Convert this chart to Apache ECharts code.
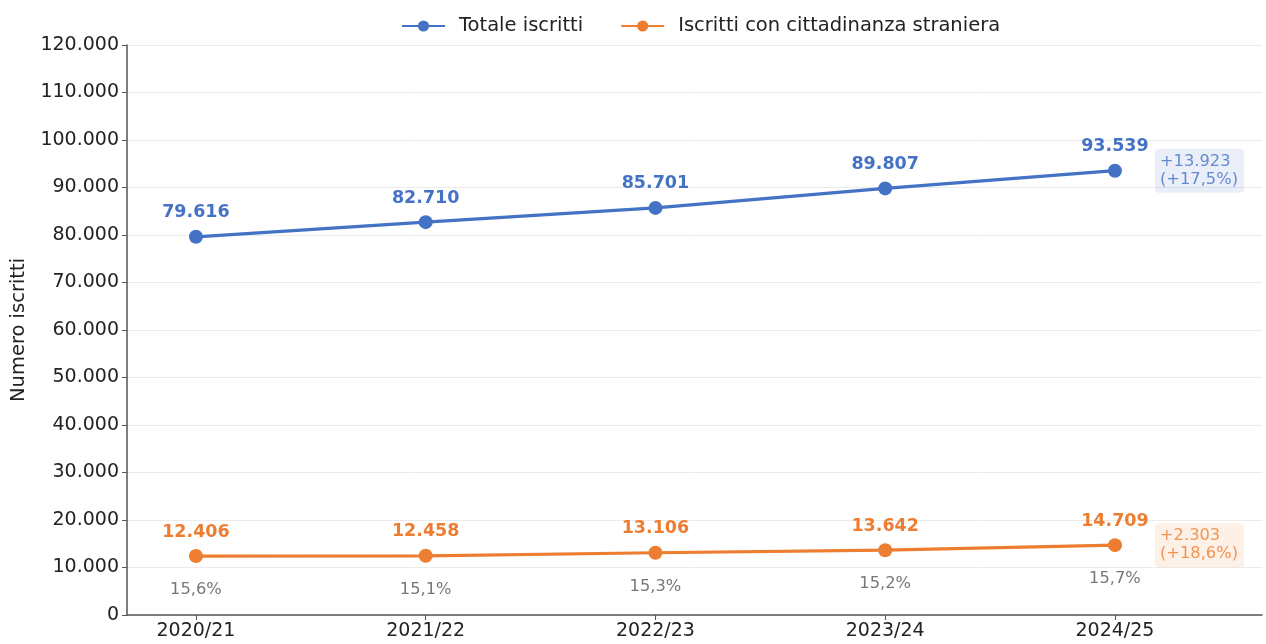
<!DOCTYPE html>
<html><head><meta charset="utf-8">
<script src="https://cdn.jsdelivr.net/npm/echarts@6/dist/echarts.min.js"></script>
<style>html,body{margin:0;padding:0;background:#fff}#c{width:1266px;height:644px}</style>
</head><body><div id="c"></div>
<script>
const categories = ['2020/21','2021/22','2022/23','2023/24','2024/25'];
const totale = [79616, 82710, 85701, 89807, 93539];
const stranieri = [12406, 12458, 13106, 13642, 14709];
const quota = ['15,6%','15,1%','15,3%','15,2%','15,7%'];
const deltaTot = '+13.923\n(+17,5%)';
const deltaStr = '+2.303\n(+18,6%)';

const BLUE = '#4472C4', ORANGE = '#ED7D31';
const FONT = '"DejaVu Sans", Verdana, sans-serif';
function itNum(v){ return String(v).replace(/\B(?=(\d{3})+(?!\d))/g, '.'); }

const chart = echarts.init(document.getElementById('c'));
const last = categories.length - 1;
chart.setOption({
  animation: false,
  textStyle: { fontFamily: FONT },
  legend: {
    top: 11, left: 396, itemGap: 37, itemWidth: 43, itemHeight: 14,
    textStyle: { fontFamily: FONT, fontSize: 19.5, color: '#222', padding: [0,0,0,9] },
    data: ['Totale iscritti', 'Iscritti con cittadinanza straniera']
  },
  grid: { left: 127, right: 4, top: 45, bottom: 29, containLabel: false },
  xAxis: {
    type: 'value', min: -0.3, max: 4.64,
    axisLine: { show: true, onZero: false, lineStyle: { color: '#555', width: 1.5 } },
    axisTick: { show: true, length: 5, lineStyle: { color: '#555' }, customValues: [0,1,2,3,4] },
    axisLabel: { fontFamily: FONT, fontSize: 19, color: '#222', margin: 7,
      customValues: [0,1,2,3,4], formatter: v => categories[Math.round(v)] },
    splitLine: { show: false }
  },
  yAxis: {
    type: 'value', min: 0, max: 120000, interval: 10000,
    name: 'Numero iscritti', nameLocation: 'middle', nameGap: 98, nameRotate: 90,
    nameTextStyle: { fontFamily: FONT, fontSize: 19.5, color: '#222' },
    axisLine: { show: true, onZero: false, lineStyle: { color: '#555', width: 1.5 } },
    axisTick: { show: true, length: 5, lineStyle: { color: '#555' } },
    axisLabel: { fontFamily: FONT, fontSize: 19, color: '#222', margin: 8, formatter: v => itNum(v) },
    splitLine: { show: true, lineStyle: { color: '#ebebeb', width: 1 } }
  },
  series: [
    {
      name: 'Totale iscritti', type: 'line', color: BLUE,
      data: totale.map((v,i) => [i, v]),
      symbol: 'circle', symbolSize: 14,
      lineStyle: { width: 3.2, color: BLUE }, itemStyle: { color: BLUE },
      label: { show: true, position: 'top', distance: 8, fontFamily: FONT, fontSize: 17.5, fontWeight: 'bold', color: BLUE,
        formatter: p => itNum(p.value[1]) }
    },
    {
      name: 'Iscritti con cittadinanza straniera', type: 'line', color: ORANGE,
      data: stranieri.map((v,i) => [i, v]),
      symbol: 'circle', symbolSize: 14,
      lineStyle: { width: 3.2, color: ORANGE }, itemStyle: { color: ORANGE },
      label: { show: true, position: 'top', distance: 8, fontFamily: FONT, fontSize: 17.5, fontWeight: 'bold', color: ORANGE,
        formatter: p => itNum(p.value[1]) }
    },
    {
      type: 'scatter', symbolSize: 0, silent: true,
      data: stranieri.map((v,i) => [i, v]),
      label: { show: true, position: 'bottom', distance: 26, fontFamily: FONT, fontSize: 16.3, color: '#555',
        formatter: p => quota[p.dataIndex] }
    },
    {
      type: 'scatter', symbolSize: 0, silent: true,
      data: [[last, totale[last]]],
      label: { show: true, position: 'right', distance: 40, align: 'left', fontFamily: FONT, fontSize: 16.3, lineHeight: 18,
        color: BLUE, backgroundColor: 'rgba(68,114,196,0.15)', borderRadius: 4, padding: [4,6,4,5],
        formatter: () => deltaTot }
    },
    {
      type: 'scatter', symbolSize: 0, silent: true,
      data: [[last, stranieri[last]]],
      label: { show: true, position: 'right', distance: 40, align: 'left', fontFamily: FONT, fontSize: 16.3, lineHeight: 18,
        color: ORANGE, backgroundColor: 'rgba(237,125,49,0.15)', borderRadius: 4, padding: [4,6,4,5],
        formatter: () => deltaStr }
    }
  ]
});
</script></body></html>
